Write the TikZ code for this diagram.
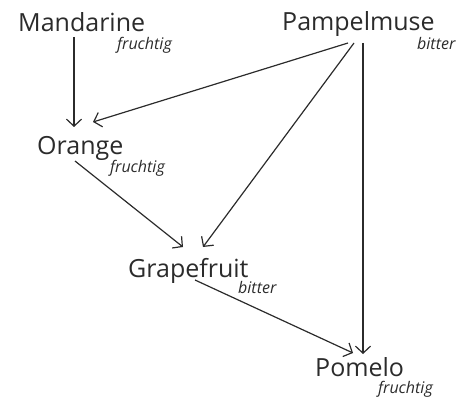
\documentclass[tikz,border=0pt]{standalone}
\usepackage{fontspec}
\setmainfont{Open Sans}
\usepackage{tikz}
\usetikzlibrary{arrows.meta,positioning,calc}
\definecolor{tinta}{HTML}{2B2B2B}

\begin{document}
\begin{tikzpicture}[x=1pt,y=-1pt,
  frucht/.style={inner sep=0pt,anchor=base west,text=tinta,font=\fontsize{25}{28}\selectfont},
  geschmack/.style={inner sep=0pt,anchor=base west,text=tinta,font=\fontsize{16}{19}\selectfont\itshape},
  pfeil/.style={draw=tinta,line width=1.2pt,-{Straight Barb[length=7pt,width=15pt]}}]
\useasboundingbox (0,0) rectangle (470,398);
\node[frucht] (mand) at (18,32) {Mandarine};
\node[geschmack] (mandg) at (117,50) {fruchtig};
\node[frucht] (pamp) at (282,31) {Pampelmuse};
\node[geschmack] (pampg) at (417,50) {bitter};
\node[frucht] (oran) at (37,154) {Orange};
\node[geschmack] (orang) at (110,172) {fruchtig};
\node[frucht] (grape) at (128,277) {Grapefruit};
\node[geschmack] (grapeg) at (238,293) {bitter};
\node[frucht] (pom) at (315,376) {Pomelo};
\node[geschmack] (pomg) at (378,393) {fruchtig};
\draw[pfeil] ($(mand.base west)+(56,5)$) -- ($(oran.base west)+(37,-27)$);
\draw[pfeil] ($(pamp.base west)+(66,12)$) -- ($(oran.base west)+(56,-32)$);
\draw[pfeil] ($(pamp.base west)+(72,12)$) -- ($(grape.base west)+(75,-30)$);
\draw[pfeil] ($(pamp.base west)+(81,12)$) -- ($(pom.base west)+(48,-22)$);
\draw[pfeil] ($(oran.base west)+(38,7)$) -- ($(grape.base west)+(55,-30)$);
\draw[pfeil] ($(grape.base west)+(67,3)$) -- ($(pom.base west)+(38,-23)$);
\end{tikzpicture}
\end{document}
